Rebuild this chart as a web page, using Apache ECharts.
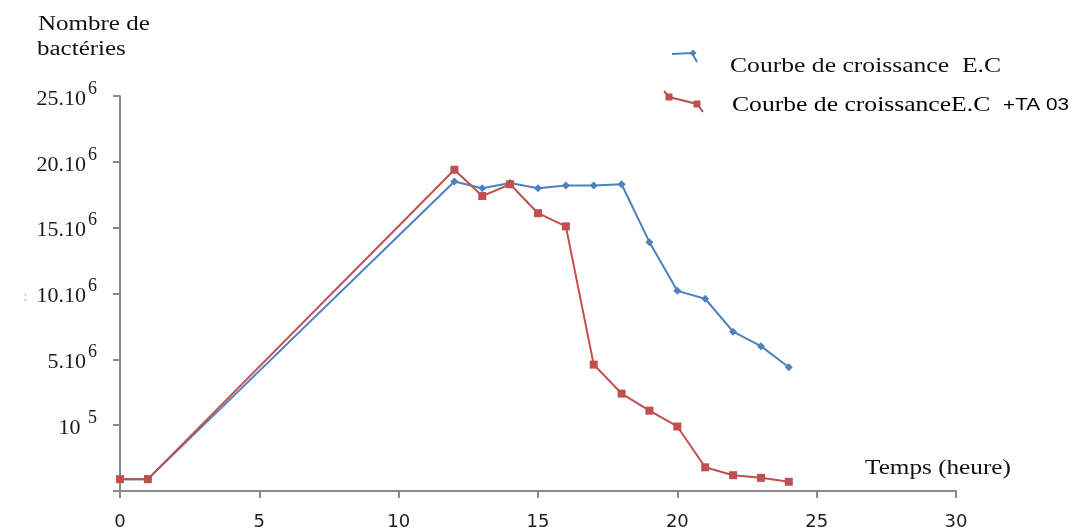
<!DOCTYPE html>
<html>
<head>
<meta charset="utf-8">
<script src="https://cdn.jsdelivr.net/npm/echarts@6/dist/echarts.min.js"></script>
<style>
  html, body { margin: 0; padding: 0; background: #fff; }
  #chart { width: 1081px; height: 531px; }
</style>
</head>
<body>
<div id="chart"></div>
<script>
// Time in hours
const hours = [0, 1, 12, 13, 14, 15, 16, 17, 18, 19, 20, 21, 22, 23, 24];
// Bacterial counts, in vertical-scale units (one tick step = 5 units)
const growthEC = [0.9, 0.9, 23.5, 23.0, 23.4, 23.0, 23.2, 23.2, 23.3, 18.9, 15.2, 14.6, 12.1, 11.0, 9.4];
const growthECTA03 = [0.9, 0.9, 24.4, 22.4, 23.3, 21.1, 20.1, 9.6, 7.4, 6.1, 4.9, 1.8, 1.2, 1.0, 0.7];
// Tick labels of the vertical axis: [mantissa, exponent]
const yTickLabels = [
  ['', ''],
  ['10 ', '5'],
  ['5.10', '6'],
  ['10.10', '6'],
  ['15.10', '6'],
  ['20.10', '6'],
  ['25.10', '6']
];
const xTicks = [0, 5, 10, 15, 20, 25, 30];

const seriesNames = ['Courbe de croissance E.C', 'Courbe de croissance E.C +TA 03'];
const BLUE = '#4F81BD';
const RED = '#C0504D';
const AXIS = '#8a8a8a';
const SERIF = '"Liberation Serif", "Times New Roman", serif';

const chart = echarts.init(document.getElementById('chart'));

const toPairs = (xs, ys) => xs.map((x, i) => [x, ys[i]]);

chart.setOption({
  animation: false,
  backgroundColor: '#ffffff',
  grid: { left: 120, right: 125, top: 96, bottom: 38, containLabel: false },
  xAxis: {
    type: 'value',
    min: xTicks[0],
    max: xTicks[xTicks.length - 1],
    interval: 5,
    axisLine: { show: true, lineStyle: { color: AXIS, width: 2 } },
    axisTick: { show: true, length: 7, lineStyle: { color: AXIS, width: 2 } },
    splitLine: { show: false },
    axisLabel: {
      margin: 22,
      fontFamily: '"DejaVu Sans", Verdana, sans-serif',
      fontSize: 18,
      color: '#1e1e1e'
    }
  },
  yAxis: {
    type: 'value',
    min: 0,
    max: 30,
    interval: 5,
    axisLine: { show: true, lineStyle: { color: AXIS, width: 2 } },
    axisTick: { show: true, length: 7, lineStyle: { color: AXIS, width: 2 } },
    splitLine: { show: false },
    axisLabel: {
      margin: 23,
      formatter: function (v) {
        const t = yTickLabels[Math.round(v / 5)];
        if (!t || !t[0]) return '';
        const dot = (v === 15) ? '{dot|:}{gap| }' : '';
        return dot + '{b|' + t[0] + '}{sp| }{sup|' + t[1] + '}';
      },
      rich: {
        b: { fontFamily: SERIF, fontSize: 22, color: '#1a1a1a', padding: [0, 0, -6, 0] },
        sp: { fontSize: 4, width: 2 },
        sup: { fontFamily: SERIF, fontSize: 18, color: '#1a1a1a', padding: [0, 0, 14, 0] },
        dot: { fontFamily: SERIF, fontSize: 14, color: '#f0a040', padding: [0, 0, -8, 0] },
        gap: { fontSize: 10, width: 9 }
      }
    }
  },
  series: [
    {
      name: seriesNames[0],
      type: 'line',
      data: toPairs(hours, growthEC),
      symbol: 'diamond',
      symbolSize: 8,
      lineStyle: { color: BLUE, width: 2 },
      itemStyle: { color: BLUE },
      z: 2
    },
    {
      name: seriesNames[1],
      type: 'line',
      data: toPairs(hours, growthECTA03),
      symbol: 'rect',
      symbolSize: 8,
      lineStyle: { color: RED, width: 2 },
      itemStyle: { color: RED },
      z: 3
    }
  ],
  graphic: [
    // Vertical axis title
    {
      type: 'text', x: 38, y: 25, scaleX: 1.25,
      style: { text: 'Nombre de', font: '20px ' + SERIF, fill: '#111', verticalAlign: 'middle' }
    },
    {
      type: 'text', x: 37, y: 50, scaleX: 1.25,
      style: { text: 'bactéries', font: '20px ' + SERIF, fill: '#111', verticalAlign: 'middle' }
    },
    // Horizontal axis title
    {
      type: 'text', x: 865, y: 468, scaleX: 1.2,
      style: { text: 'Temps (heure)', font: '21px ' + SERIF, fill: '#111', verticalAlign: 'middle' }
    },
    // Legend: first series
    {
      type: 'polyline',
      shape: { points: [[672, 54], [692, 53], [697, 62]] },
      style: { stroke: BLUE, lineWidth: 2, fill: null }
    },
    {
      type: 'polygon',
      shape: { points: [[693, 49.5], [696.5, 53], [693, 56.5], [689.5, 53]] },
      style: { fill: BLUE }
    },
    {
      type: 'text', x: 730, y: 66, scaleX: 1.22,
      style: { text: seriesNames[0].replace(' E.C', '  E.C'), font: '21px ' + SERIF, fill: '#111', verticalAlign: 'middle' }
    },
    // Legend: second series
    {
      type: 'polyline',
      shape: { points: [[664, 91], [669, 97], [697, 104], [703, 112]] },
      style: { stroke: RED, lineWidth: 2, fill: null }
    },
    { type: 'rect', shape: { x: 665.5, y: 93.5, width: 7, height: 7 }, style: { fill: RED } },
    { type: 'rect', shape: { x: 693.5, y: 100.5, width: 7, height: 7 }, style: { fill: RED } },
    {
      type: 'text', x: 732, y: 105, scaleX: 1.22,
      style: {
        text: '{s|Courbe de croissance}{s|E.C  }{a|+TA 03}',
        verticalAlign: 'middle',
        rich: {
          s: { fontFamily: SERIF, fontSize: 21, color: '#111' },
          a: { fontFamily: '"Liberation Sans", Arial, sans-serif', fontSize: 17, color: '#111' }
        }
      }
    }
  ]
});
</script>
</body>
</html>
